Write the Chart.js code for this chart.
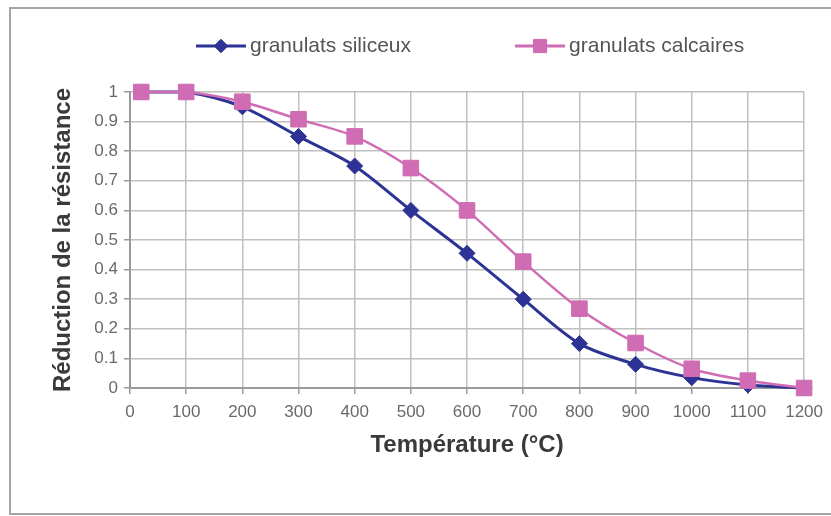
<!DOCTYPE html>
<html lang="fr">
<head>
<meta charset="utf-8">
<title>Réduction de la résistance</title>
<script src="https://cdn.jsdelivr.net/npm/chart.js@4/dist/chart.umd.min.js"></script>
<style>
    html, body { margin: 0; padding: 0; background: #fff; overflow: hidden; }
    #cadre-wrap { position: relative; width: 831px; height: 516px; }
    #cadre {
        position: absolute; left: 9px; top: 7px; width: 840px; height: 504px;
        border: 2px solid #a4a4a4; border-right: none;
    }
    #graphique { position: absolute; left: 0; top: 0; }
</style>
</head>
<body>
<div id="cadre-wrap">
    <div id="cadre"></div>
    <canvas id="graphique" width="831" height="516"></canvas>
</div>
<script>
// valeurs
const temperatures = [20, 100, 200, 300, 400, 500, 600, 700, 800, 900, 1000, 1100, 1200];
const siliceux = [1, 1, 0.95, 0.85, 0.75, 0.6, 0.455, 0.3, 0.15, 0.08, 0.035, 0.01, 0];
const calcaires = [1, 1, 0.967, 0.908, 0.85, 0.743, 0.6, 0.427, 0.268, 0.152, 0.065, 0.025, 0];
const nomsSeries = ['granulats siliceux', 'granulats calcaires'];
const titreX = 'Température (°C)';
const titreY = 'Réduction de la résistance';

const BLEU = '#2d3394';
const ROSE = '#cf6cb4';

function points(valeurs) {
    return temperatures.map((t, i) => ({ x: t, y: valeurs[i] }));
}

// légende à la Excel : trait + marqueur + texte
const legendeExcel = {
    id: 'legendeExcel',
    afterDraw(chart) {
        const ctx = chart.ctx;
        const zone = chart.chartArea;
        const y = 46;
        const longTrait = 50;
        const ecart = 104;
        ctx.save();
        ctx.font = '21px "Liberation Sans", Arial, sans-serif';
        ctx.textBaseline = 'middle';
        const largeurs = chart.data.datasets.map(d => ctx.measureText(d.label).width);
        const total = largeurs.reduce((a, b) => a + b, 0) + 2 * (longTrait + 4) + ecart;
        let x = (zone.left + zone.right) / 2 - total / 2 + 3;
        chart.data.datasets.forEach((d, i) => {
            ctx.strokeStyle = d.borderColor;
            ctx.fillStyle = d.borderColor;
            ctx.lineWidth = 3;
            ctx.beginPath();
            ctx.moveTo(x, y);
            ctx.lineTo(x + longTrait, y);
            ctx.stroke();
            ctx.lineWidth = 1;
            Chart.helpers.drawPoint(ctx, {
                pointStyle: d.pointStyle,
                radius: d.pointRadius * 0.85,
                borderWidth: 1
            }, x + longTrait / 2, y);
            ctx.fillStyle = '#555';
            ctx.fillText(d.label, x + longTrait + 4, y);
            x += longTrait + 4 + largeurs[i] + ecart;
        });
        ctx.restore();
    }
};

const police = '"Liberation Sans", Arial, sans-serif';

new Chart(document.getElementById('graphique'), {
    type: 'line',
    data: {
        datasets: [
            {
                label: nomsSeries[0],
                data: points(siliceux),
                borderColor: BLEU,
                backgroundColor: BLEU,
                borderWidth: 3,
                pointStyle: 'rectRot',
                pointRadius: 8,
                pointBorderWidth: 1,
                tension: 0.3,
                clip: false,
                order: 2
            },
            {
                label: nomsSeries[1],
                data: points(calcaires),
                borderColor: ROSE,
                backgroundColor: ROSE,
                borderWidth: 2.5,
                pointStyle: 'rect',
                pointRadius: 11,
                pointBorderWidth: 1,
                tension: 0.3,
                clip: false,
                order: 1
            }
        ]
    },
    options: {
        responsive: false,
        animation: false,
        devicePixelRatio: 1,
        layout: { padding: { top: 92, right: 18, bottom: 0, left: 0 } },
        plugins: {
            legend: { display: false },
            tooltip: { enabled: false }
        },
        scales: {
            x: {
                type: 'linear',
                min: 0,
                max: 1200,
                afterFit: s => { s.height = 128; },
                ticks: {
                    stepSize: 100,
                    maxRotation: 0,
                    autoSkip: false,
                    padding: 8,
                    color: '#6a6a6a',
                    font: { family: police, size: 17 },
                    callback: v => String(v)
                },
                grid: { color: '#c0c0c0', tickColor: '#9a9a9a', tickLength: 6, lineWidth: 1.5 },
                border: { color: '#9a9a9a', width: 2 },
                title: {
                    display: true,
                    text: titreX,
                    color: '#3a3a3a',
                    font: { family: police, size: 24, weight: 'bold' },
                    padding: { top: 0, bottom: 56 }
                }
            },
            y: {
                min: 0,
                max: 1,
                afterFit: s => { s.width = 130; },
                ticks: {
                    stepSize: 0.1,
                    padding: 6,
                    color: '#6a6a6a',
                    font: { family: police, size: 17 },
                    callback: v => String(Math.round(v * 10) / 10)
                },
                grid: { color: '#c0c0c0', tickColor: '#9a9a9a', tickLength: 6, lineWidth: 1.5 },
                border: { color: '#9a9a9a', width: 2 },
                title: {
                    display: true,
                    text: titreY,
                    color: '#3a3a3a',
                    font: { family: police, size: 24, weight: 'bold' },
                    padding: { top: 49, bottom: 0 }
                }
            }
        }
    },
    plugins: [legendeExcel]
});
</script>
</body>
</html>
